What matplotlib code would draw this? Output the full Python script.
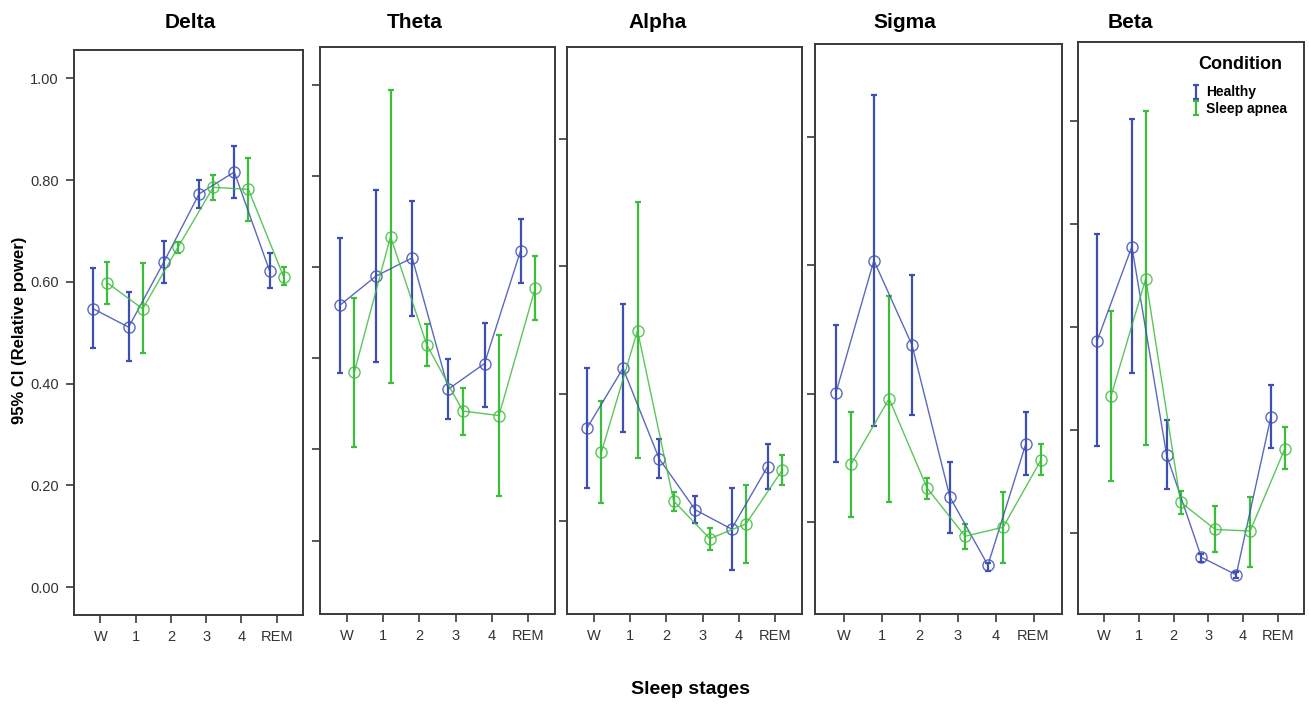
import matplotlib
matplotlib.use("Agg")
import matplotlib.pyplot as plt

plt.rcParams["font.family"] = ["Liberation Sans", "DejaVu Sans"]

stages = ["W", "1", "2", "3", "4", "REM"]
bands = ["Delta", "Theta", "Alpha", "Sigma", "Beta"]

# mean, lower CI, upper CI per band
healthy_mean = {
    "Delta": [0.547, 0.511, 0.639, 0.773, 0.816, 0.622],
    "Theta": [0.129, 0.145, 0.155, 0.083, 0.097, 0.159],
    "Alpha": [0.0865, 0.110, 0.0745, 0.0545, 0.047, 0.0715],
    "Sigma": [0.0401, 0.0607, 0.0476, 0.0239, 0.0133, 0.0322],
    "Beta": [0.0573, 0.0756, 0.0351, 0.0153, 0.0119, 0.0426],
}
healthy_lo = {
    "Delta": [0.470, 0.444, 0.598, 0.745, 0.765, 0.588],
    "Theta": [0.0916, 0.0977, 0.123, 0.0668, 0.0731, 0.141],
    "Alpha": [0.0629, 0.085, 0.067, 0.0492, 0.0309, 0.0628],
    "Sigma": [0.0294, 0.035, 0.0367, 0.0183, 0.0124, 0.0273],
    "Beta": [0.0369, 0.051, 0.0286, 0.0144, 0.0113, 0.0366],
}
healthy_hi = {
    "Delta": [0.627, 0.580, 0.680, 0.800, 0.867, 0.656],
    "Theta": [0.166, 0.192, 0.186, 0.0994, 0.119, 0.1765],
    "Alpha": [0.110, 0.135, 0.0823, 0.0599, 0.0632, 0.0802],
    "Sigma": [0.0506, 0.0864, 0.0585, 0.0293, 0.0137, 0.0371],
    "Beta": [0.078, 0.1004, 0.0419, 0.0159, 0.0125, 0.0487],
}
apnea_mean = {
    "Delta": [0.598, 0.547, 0.668, 0.786, 0.782, 0.610],
    "Theta": [0.0924, 0.1666, 0.1074, 0.071, 0.0685, 0.1382],
    "Alpha": [0.077, 0.1248, 0.058, 0.0432, 0.049, 0.070],
    "Sigma": [0.029, 0.0392, 0.0253, 0.0178, 0.0192, 0.0297],
    "Beta": [0.0466, 0.0694, 0.026, 0.0207, 0.0204, 0.0364],
}
apnea_lo = {
    "Delta": [0.557, 0.460, 0.656, 0.761, 0.720, 0.594],
    "Theta": [0.0515, 0.0863, 0.0958, 0.0578, 0.0242, 0.121],
    "Alpha": [0.0572, 0.0748, 0.0542, 0.0389, 0.0336, 0.0643],
    "Sigma": [0.0208, 0.0232, 0.0236, 0.0158, 0.0137, 0.0273],
    "Beta": [0.0302, 0.037, 0.0237, 0.0163, 0.0135, 0.0325],
}
apnea_hi = {
    "Delta": [0.639, 0.637, 0.678, 0.811, 0.844, 0.629],
    "Theta": [0.133, 0.2471, 0.1187, 0.0836, 0.1126, 0.1561],
    "Alpha": [0.097, 0.175, 0.0614, 0.0474, 0.0644, 0.076],
    "Sigma": [0.0371, 0.0552, 0.0269, 0.0197, 0.0247, 0.0321],
    "Beta": [0.0631, 0.1019, 0.0281, 0.0252, 0.0271, 0.0405],
}

# axis ticks / limits per band (only Delta has labelled ticks)
yticks = {
    "Delta": [0.0, 0.2, 0.4, 0.6, 0.8, 1.0],
    "Theta": [0.0, 0.05, 0.10, 0.15, 0.20, 0.25],
    "Alpha": [0.05, 0.10, 0.15, 0.20],
    "Sigma": [0.02, 0.04, 0.06, 0.08],
    "Beta": [0.02, 0.04, 0.06, 0.08, 0.10],
}
ylims = {
    "Delta": (-0.055, 1.056),
    "Theta": (-0.0403, 0.2706),
    "Alpha": (0.0137, 0.2359),
    "Sigma": (0.0057, 0.0944),
    "Beta": (0.0043, 0.1153),
}

W, H = 1309, 706
# box of each panel in pixels: left, right, top, bottom
boxes = {
    "Delta": (74, 303, 50, 615),
    "Theta": (320, 555, 47, 614),
    "Alpha": (567, 802, 47, 614),
    "Sigma": (815, 1062, 44, 614),
    "Beta": (1078, 1304, 42, 614),
}
title_x = {"Delta": 190, "Theta": 415, "Alpha": 658, "Sigma": 905, "Beta": 1130}

blue = "#3e4fb3"
green = "#3dbd3d"
spine_col = "#3a3a3a"
off = 0.2

fig = plt.figure(figsize=(W / 100, H / 100), dpi=100)

for band in bands:
    l, r, t, b = boxes[band]
    ax = fig.add_axes([l / W, 1 - b / H, (r - l) / W, (b - t) / H])
    xs = list(range(len(stages)))
    xh = [x - off for x in xs]
    xa = [x + off for x in xs]

    hm, hl, hh = healthy_mean[band], healthy_lo[band], healthy_hi[band]
    am, al, ah = apnea_mean[band], apnea_lo[band], apnea_hi[band]

    eh = ax.errorbar(xh, hm, yerr=[[m - lo for m, lo in zip(hm, hl)], [hi - m for m, hi in zip(hm, hh)]],
                     fmt="none", ecolor=blue, elinewidth=1.6, capsize=2, capthick=1.6, label="Healthy")
    ea = ax.errorbar(xa, am, yerr=[[m - lo for m, lo in zip(am, al)], [hi - m for m, hi in zip(am, ah)]],
                     fmt="none", ecolor=green, elinewidth=1.6, capsize=2, capthick=1.6, label="Sleep apnea")
    ax.plot(xh, hm, color=blue, lw=1.0, alpha=0.85, marker="o", ms=8, mfc="none", mec=blue, mew=1.0)
    ax.plot(xa, am, color=green, lw=1.0, alpha=0.85, marker="o", ms=8, mfc="none", mec=green, mew=1.0)

    ax.set_xlim(-0.75, 5.75)
    ax.set_ylim(*ylims[band])
    ax.set_xticks(xs)
    ax.set_xticklabels(stages, fontsize=10.5, color="#333333")
    ax.set_yticks(yticks[band])
    if band == "Delta":
        ax.set_yticklabels(["%.2f" % v for v in yticks[band]], fontsize=10.5, color="#333333")
    else:
        ax.set_yticklabels([])
    ax.tick_params(direction="out", length=6, width=1.2, color=spine_col, pad=5)
    for sp in ax.spines.values():
        sp.set_color(spine_col)
        sp.set_linewidth(1.4)

    fig.text(title_x[band] / W, 1 - 22 / H, band, ha="center", va="center",
             fontsize=15, fontweight="bold")

    if band == "Beta":
        leg = ax.legend(handles=[eh, ea], title="Condition", loc="upper center",
                        bbox_to_anchor=(1240 / W, 1 - 49 / H), bbox_transform=fig.transFigure,
                        frameon=False, handlelength=0.5, handleheight=0.7, handletextpad=0.5,
                        borderpad=0, labelspacing=0.2,
                        prop={"size": 10, "weight": "bold"},
                        title_fontproperties={"size": 13, "weight": "bold"})
        leg._legend_box.sep = 9

fig.text(20 / W, 1 - 330 / H, "95% CI (Relative power)", rotation=90, ha="center",
         va="center", fontsize=12, fontweight="bold")
fig.text(690 / W, 1 - 690 / H, "Sleep stages", ha="center", va="center",
         fontsize=14, fontweight="bold")

fig.savefig("out.png", dpi=100, facecolor="white")
